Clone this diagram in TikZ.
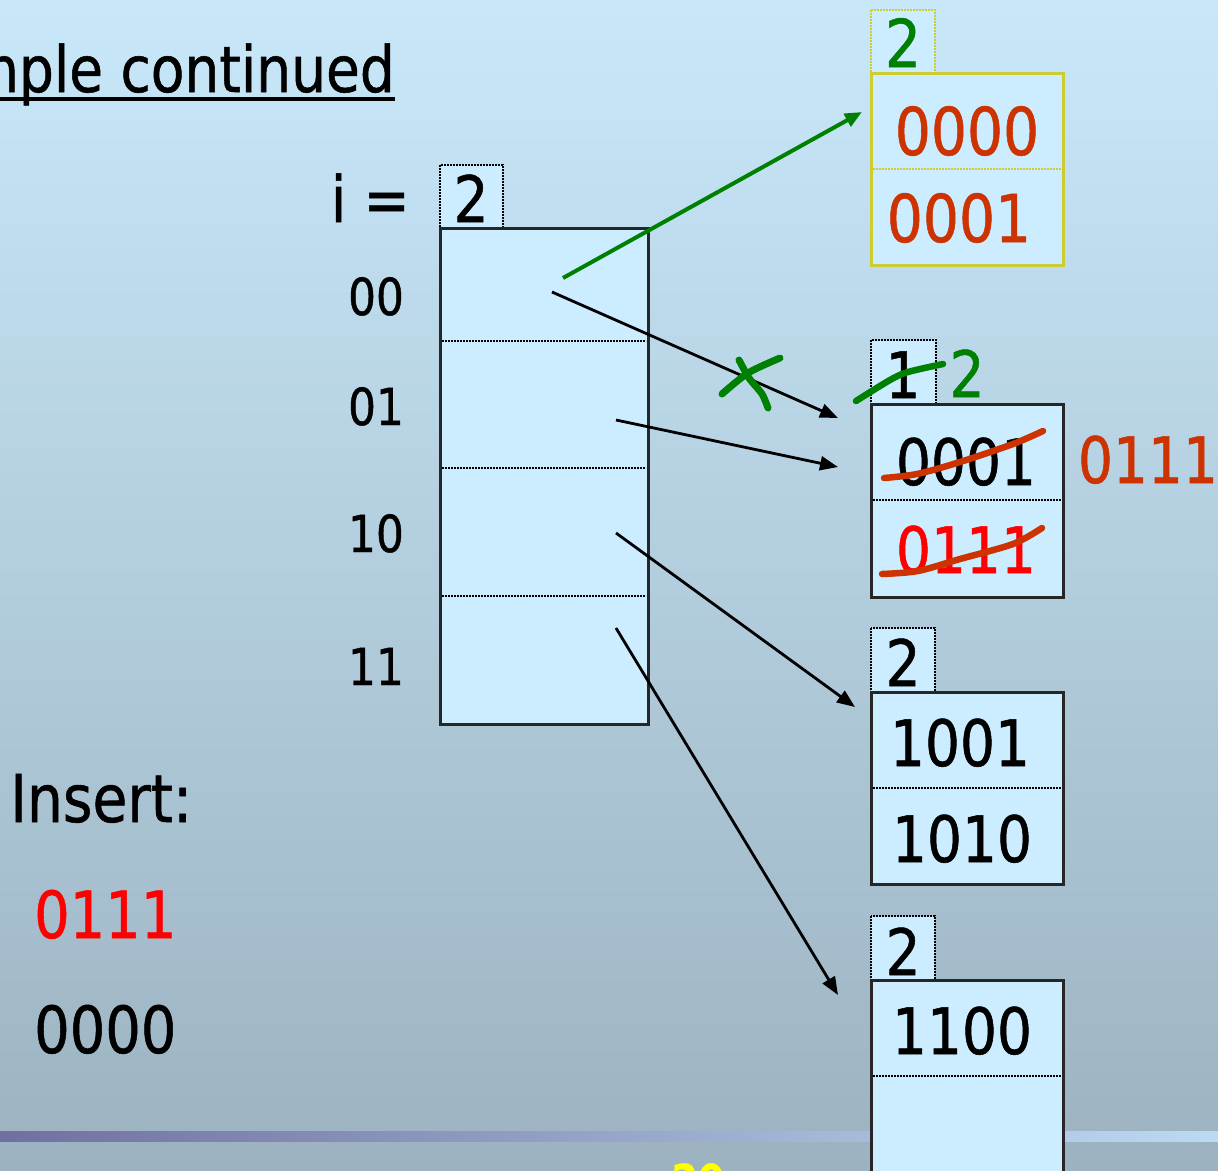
\documentclass[tikz,border=0pt]{standalone}
\usepackage{fontspec}
\setmainfont{DejaVu Sans}[FakeStretch=0.86, FakeBold=0.8]
\usetikzlibrary{arrows.meta}
\definecolor{bgtop}{RGB}{200,232,250}
\definecolor{bgmid}{RGB}{180,208,226}
\definecolor{bgbot}{RGB}{156,178,192}
\definecolor{barL}{RGB}{112,112,160}
\definecolor{barR}{RGB}{188,218,242}
\definecolor{cellfill}{RGB}{204,236,255}
\definecolor{dgreen}{RGB}{0,128,0}
\definecolor{orred}{RGB}{204,51,0}
\definecolor{ybord}{RGB}{204,204,51}
\definecolor{footyel}{RGB}{255,255,0}
\begin{document}
\begin{tikzpicture}[x=1pt,y=-1pt,
  big/.style={inner sep=0pt, anchor=base, font=\fontsize{64}{70}\selectfont},
  bigger/.style={inner sep=0pt, anchor=base, font=\fontsize{66}{72}\selectfont},
  lbl/.style={inner sep=0pt, anchor=base, font=\fontsize{51}{56}\selectfont},
  cellbox/.style={fill=cellfill, draw=black!85, line width=3pt},
  tagbox/.style={fill=cellfill, draw=black, densely dotted, line width=2pt},
  sepline/.style={draw=black, densely dotted, line width=2pt},
  ptr/.style={line width=2.8pt, -{Triangle[length=18pt,width=14pt]}},
  scrib/.style={line width=6.5pt, line cap=round, line join=round}
]
\useasboundingbox (0,0) rectangle (1218,1170);
\clip (0,0) rectangle (1218,1170);
% background
\shade[top color=bgtop, middle color=bgmid, bottom color=bgbot] (-1,-1) rectangle (1219,1171);
\shade[left color=barL, right color=barR] (0,1131) rectangle (1218,1141);

% title
\node[big, anchor=base east] (title) at (395,92) {Example continued};
\draw[line width=3.5pt] ([yshift=-7pt]title.base west) -- ([yshift=-7pt]title.base east);

% global depth
\node[big, anchor=base east] (ieq) at (410,222) {i =};
\draw[tagbox] (440,165) rectangle (503,228);
\node[big] (gd) at (471,222) {2};

% directory
\draw[cellbox] (440,228) rectangle (648,724);
\draw[sepline] (442,341) -- (646,341);
\draw[sepline] (442,468) -- (646,468);
\draw[sepline] (442,596) -- (646,596);
\node[lbl] (l00) at (376,315) {00};
\node[lbl] (l01) at (376,425) {01};
\node[lbl] (l10) at (376,552) {10};
\node[lbl] (l11) at (376,685) {11};

% bucket A (new)
\draw[fill=cellfill, draw=ybord, densely dotted, line width=2pt] (871,10) rectangle (935,73);
\node[bigger, text=dgreen] (ta) at (903,67) {2};
\draw[fill=cellfill, draw=ybord, line width=3pt] (871,73) rectangle (1063,265);
\draw[draw=ybord, densely dotted, line width=2pt] (873,169) -- (1061,169);
\node[bigger, text=orred] (a1) at (967,155) {0000};
\node[bigger, text=orred] (a2) at (959,242) {0001};

% bucket B
\draw[tagbox] (871,340) rectangle (936,404);
\node[big] (tb) at (903,398) {1};
\node[big, text=dgreen] (tb2) at (967,397) {2};
\draw[cellbox] (871,404) rectangle (1063,597);
\draw[sepline] (873,500) -- (1061,500);
\node[big] (b1) at (966,485) {0001};
\node[big, text=red] (b2) at (966,573) {0111};
\node[big, text=orred] (bx) at (1148,483) {0111};

% bucket C
\draw[tagbox] (871,628) rectangle (935,692);
\node[big] (tc) at (903,686) {2};
\draw[cellbox] (871,692) rectangle (1063,884);
\draw[sepline] (873,788) -- (1061,788);
\node[big] (c1) at (960,766) {1001};
\node[big] (c2) at (962,862) {1010};

% bucket D
\draw[tagbox] (871,916) rectangle (935,980);
\node[big] (td) at (903,975) {2};
\draw[cellbox] (871,980) rectangle (1063,1190);
\draw[sepline] (873,1076) -- (1061,1076);
\node[big] (d1) at (962,1054) {1100};

% insert list
\node[big, anchor=base west, font=\fontsize{66}{72}\selectfont] (ins) at (10,822) {Insert:};
\node[big, anchor=base west, text=red, font=\fontsize{65}{72}\selectfont] (k1) at (34,938) {0111};
\node[big, anchor=base west, font=\fontsize{65}{72}\selectfont] (k2) at (34,1053) {0000};

% pointer coordinates
\coordinate (s00g) at (563,278);
\coordinate (eA) at (862,112);
\coordinate (s00) at (552,292);
\coordinate (eB1) at (838,418);
\coordinate (s01) at (616,420);
\coordinate (eB2) at (838,467);
\coordinate (s10) at (616,533);
\coordinate (eC) at (855,707);
\coordinate (s11) at (616,628);
\coordinate (eD) at (838,995);

\draw[ptr] (s00) -- (eB1);
\draw[ptr] (s01) -- (eB2);
\draw[ptr] (s10) -- (eC);
\draw[ptr] (s11) -- (eD);
\draw[ptr, dgreen, line width=4pt, -{Triangle[length=17pt,width=14pt]}] (s00g) -- (eA);

% hand-drawn marks
\draw[scrib, dgreen, line width=7pt] plot[smooth] coordinates {(722,394) (748,373) (780,358)};
\draw[scrib, dgreen, line width=7pt] plot[smooth] coordinates {(739,360) (749,378) (762,394) (768,408)};
\draw[scrib, dgreen] plot[smooth] coordinates {(856,401) (890,380) (908,372) (943,364)};
\draw[scrib, orred] plot[smooth] coordinates {(884,478) (917,474) (960,462) (1013,444) (1043,431)};
\draw[scrib, orred] plot[smooth] coordinates {(882,574) (918,571) (960,559) (1013,544) (1042,528)};

% footer fragment
\node[inner sep=0pt, anchor=base, text=footyel, font=\bfseries\fontsize{44}{48}\selectfont] (pg) at (698,1196) {20};
\end{tikzpicture}
\end{document}
